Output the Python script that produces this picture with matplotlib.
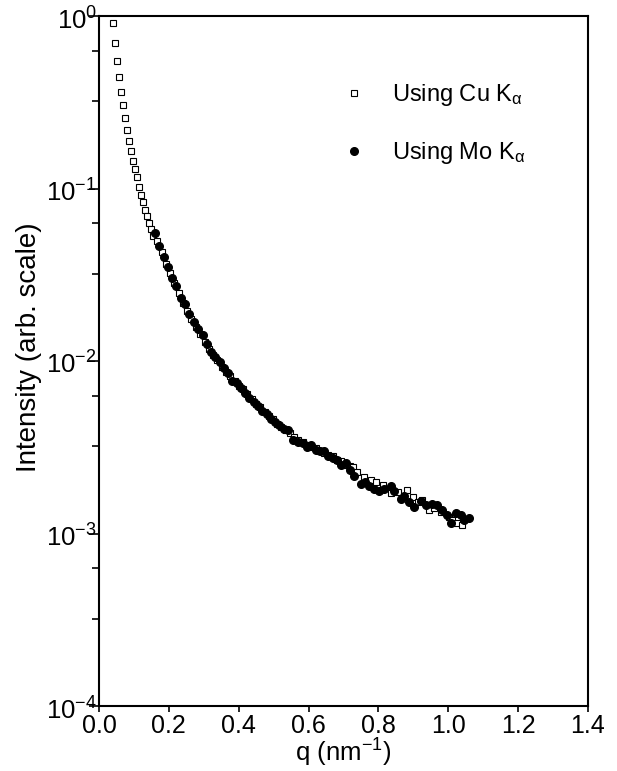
import matplotlib
matplotlib.use('Agg')
import matplotlib.pyplot as plt
import numpy as np
from matplotlib.ticker import LogLocator, NullFormatter, FormatStrFormatter
from matplotlib.transforms import ScaledTranslation

# Cu K-alpha data (open squares): q in nm^-1, log10 intensity
cu_q = [0.039, 0.046, 0.051, 0.057, 0.063, 0.069, 0.074, 0.080, 0.087, 0.092,
        0.098, 0.103, 0.109, 0.115, 0.121, 0.127, 0.132, 0.138, 0.144, 0.150,
        0.155, 0.167, 0.179, 0.191, 0.203, 0.215, 0.228, 0.240, 0.252, 0.264,
        0.277, 0.290, 0.303, 0.315, 0.327, 0.339, 0.352, 0.364, 0.376, 0.388,
        0.400, 0.412, 0.424, 0.437, 0.449, 0.461, 0.474, 0.486, 0.498, 0.510,
        0.522, 0.535, 0.547, 0.559, 0.571, 0.583, 0.596, 0.608, 0.620, 0.633,
        0.645, 0.657, 0.669, 0.682, 0.694, 0.706, 0.718, 0.726, 0.740, 0.759,
        0.778, 0.793, 0.812, 0.835, 0.855, 0.883, 0.898, 0.912, 0.926, 0.945,
        0.959, 0.979, 1.002, 1.012, 1.026, 1.039]
cu_log = [-0.042, -0.157, -0.261, -0.356, -0.441, -0.517, -0.593, -0.659, -0.725, -0.782,
          -0.839, -0.886, -0.934, -0.990, -1.038, -1.076, -1.123, -1.161, -1.199, -1.237,
          -1.275, -1.303, -1.369, -1.436, -1.492, -1.549, -1.606, -1.663, -1.710, -1.758,
          -1.805, -1.843, -1.890, -1.928, -1.966, -1.994, -2.032, -2.061, -2.089, -2.117,
          -2.146, -2.165, -2.193, -2.221, -2.250, -2.269, -2.297, -2.316, -2.335, -2.364,
          -2.382, -2.401, -2.420, -2.439, -2.458, -2.468, -2.487, -2.496, -2.506, -2.524,
          -2.534, -2.543, -2.553, -2.572, -2.581, -2.600, -2.610, -2.614, -2.644, -2.672,
          -2.691, -2.701, -2.721, -2.768, -2.758, -2.749, -2.787, -2.816, -2.807, -2.864,
          -2.854, -2.873, -2.902, -2.921, -2.940, -2.950]

# Mo K-alpha data (filled circles)
mo_q = [0.160, 0.173, 0.185, 0.197, 0.209, 0.221, 0.235, 0.246, 0.258, 0.271,
        0.284, 0.297, 0.309, 0.321, 0.333, 0.345, 0.359, 0.370, 0.382, 0.395,
        0.406, 0.419, 0.430, 0.443, 0.454, 0.468, 0.481, 0.492, 0.504, 0.516,
        0.529, 0.540, 0.555, 0.569, 0.583, 0.595, 0.608, 0.620, 0.632, 0.645,
        0.657, 0.669, 0.681, 0.694, 0.706, 0.718, 0.730, 0.749, 0.761, 0.773,
        0.788, 0.802, 0.816, 0.835, 0.845, 0.864, 0.873, 0.888, 0.902, 0.921,
        0.935, 0.954, 0.969, 0.983, 0.997, 1.007, 1.021, 1.036, 1.045, 1.059]
mo_log = [-1.256, -1.331, -1.398, -1.455, -1.521, -1.568, -1.634, -1.672, -1.729, -1.776,
          -1.814, -1.852, -1.900, -1.947, -1.975, -2.004, -2.042, -2.070, -2.117, -2.127,
          -2.155, -2.184, -2.212, -2.240, -2.259, -2.288, -2.307, -2.335, -2.354, -2.373,
          -2.392, -2.401, -2.458, -2.468, -2.477, -2.496, -2.487, -2.515, -2.524, -2.524,
          -2.553, -2.562, -2.572, -2.600, -2.591, -2.629, -2.667, -2.714, -2.704, -2.723,
          -2.742, -2.752, -2.742, -2.723, -2.752, -2.799, -2.780, -2.818, -2.846, -2.809,
          -2.837, -2.828, -2.837, -2.865, -2.894, -2.941, -2.884, -2.894, -2.922, -2.913]

x_ticks = [0.0, 0.2, 0.4, 0.6, 0.8, 1.0, 1.2, 1.4]
y_ticks = [1e-4, 1e-3, 1e-2, 1e-1, 1e0]
y_labels = [r'$\mathregular{10^{-4}}$', r'$\mathregular{10^{-3}}$', r'$\mathregular{10^{-2}}$',
            r'$\mathregular{10^{-1}}$', r'$\mathregular{10^{0}}$']

fam = 'Liberation Sans'
plt.rcParams['font.family'] = fam
plt.rcParams['mathtext.fontset'] = 'custom'
plt.rcParams['mathtext.rm'] = fam
plt.rcParams['mathtext.it'] = fam
plt.rcParams['mathtext.default'] = 'regular'

fig = plt.figure(figsize=(6.17, 7.71), dpi=100)
ax = fig.add_axes([99/617, 1 - 706/771, 489/617, 690/771])

ax.plot(cu_q, 10**np.array(cu_log), 's', ms=4.3, mfc='white', mec='black', mew=0.8,
        label=r'Using Cu K$_{\alpha}$')
ax.plot(mo_q, 10**np.array(mo_log), 'o', ms=5.5, color='black', label=r'Using Mo K$_{\alpha}$')

ax.set_yscale('log')
ax.set_xlim(0, 1.4)
ax.set_ylim(1e-4, 1)
ax.set_xticks(x_ticks)
ax.xaxis.set_major_formatter(FormatStrFormatter('%.1f'))
ax.set_yticks(y_ticks, y_labels)
ax.yaxis.set_minor_locator(LogLocator(base=10, subs=(3.2, 6.3)))
ax.yaxis.set_minor_formatter(NullFormatter())

ax.tick_params(axis='y', which='major', direction='out', length=7, width=1.2, labelsize=18.5, pad=-5.5)
ax.tick_params(axis='y', which='minor', direction='out', length=5, width=1.2)
ax.tick_params(axis='x', which='major', direction='out', length=4.5, width=1.2, labelsize=18, pad=1.5)
for s in ax.spines.values():
    s.set_linewidth(1.5)

ax.set_xlabel(r'q (nm$^{-1}$)', fontsize=18.5)
ax.set_ylabel('Intensity (arb. scale)', fontsize=20)
ax.xaxis.set_label_coords(0.5, -0.0915)
ax.xaxis.label.set_verticalalignment('bottom')
ax.yaxis.set_label_coords(-0.143, 0.52)
ax.yaxis.label.set_verticalalignment('center')

ax.legend(loc='upper left', bbox_to_anchor=(0.473, 0.921), frameon=False, fontsize=17,
          handlelength=1, handletextpad=1.1, labelspacing=1.34, borderpad=0)

# shift y tick labels down a little so the tick sits under the exponent
shift = ScaledTranslation(0, -2/100, fig.dpi_scale_trans)
for lab in ax.get_yticklabels():
    lab.set_transform(lab.get_transform() + shift)

fig.savefig('out.png', dpi=100)
